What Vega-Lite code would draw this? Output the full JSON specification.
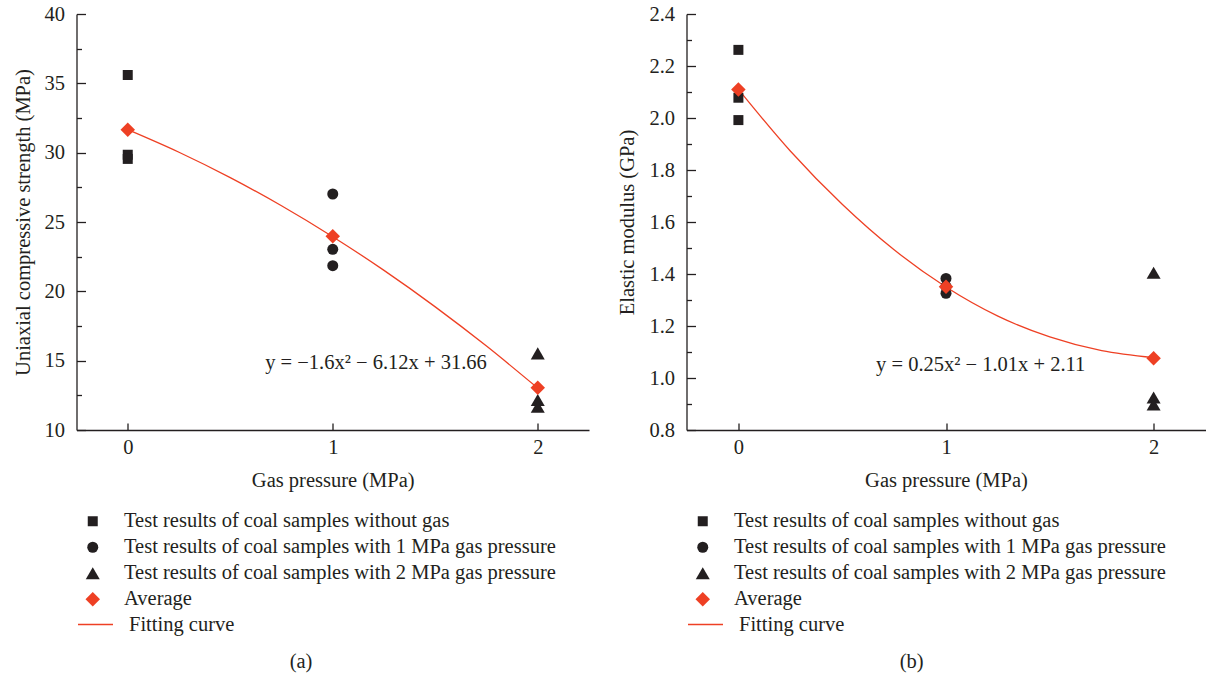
{
  "$schema": "https://vega.github.io/schema/vega-lite/v6.json",
  "padding": {"left": 12.5, "top": 4, "right": 0, "bottom": 0},
  "background": "white",
  "spacing": 28,
  "config": {
    "font": "Liberation Serif",
    "view": {"stroke": null},
    "axis": {
      "grid": false,
      "domainColor": "#231F20",
      "domainWidth": 1.3,
      "tickColor": "#231F20",
      "tickWidth": 1.3,
      "labelFont": "Liberation Serif",
      "labelFontSize": 20.5,
      "labelColor": "#231F20",
      "titleFont": "Liberation Serif",
      "titleFontSize": 20.5,
      "titleFontWeight": "normal",
      "titleColor": "#231F20"
    },
    "legend": {"labelFont": "Liberation Serif", "labelFontSize": 20.5, "labelColor": "#231F20", "labelLimit": 900, "padding": 0, "title": null},
    "title": {"font": "Liberation Serif", "fontSize": 20.5, "fontWeight": "normal", "color": "#231F20"}
  },
  "resolve": {
    "scale": {"x": "independent", "y": "independent", "color": "independent", "shape": "independent", "size": "independent", "stroke": "independent"},
    "legend": {"color": "independent", "shape": "independent", "size": "independent", "stroke": "independent"}
  },
  "hconcat": [
    {
      "width": 512.5,
      "height": 416,
      "title": {"text": "(a)", "orient": "bottom", "anchor": "middle", "frame": "bounds", "offset": 17},
      "encoding": {
        "x": {"field": "x", "type": "quantitative", "scale": {"domain": [-0.25, 2.25], "nice": false, "zero": false},
          "axis": {"title": "Gas pressure (MPa)", "format": "d", "values": [0, 0.5, 1, 1.5, 2], "labelExpr": "datum.value % 1 === 0 ? datum.label : ''",
            "tickSize": {"condition": {"test": "datum.value % 1 !== 0", "value": -4}, "value": -7}, "labelPadding": 14.5, "titlePadding": 12}},
        "y": {"field": "y", "type": "quantitative", "scale": {"domain": [10, 40], "nice": false, "zero": false},
          "axis": {"title": "Uniaxial compressive strength (MPa)", "values": [10, 12.5, 15, 17.5, 20, 22.5, 25, 27.5, 30, 32.5, 35, 37.5, 40], "labelExpr": "datum.value % 5 === 0 ? datum.label : ''",
            "tickSize": {"condition": {"test": "datum.value % 5 !== 0", "value": -5}, "value": -9}, "labelPadding": 21, "titlePadding": 11}}
      },
      "layer": [
        {
          "data": {"values": [
            {"x": 0, "y": 31.66, "curve": "Fitting curve"}, {"x": 0.25, "y": 30.03, "curve": "Fitting curve"}, {"x": 0.5, "y": 28.2, "curve": "Fitting curve"}, {"x": 0.75, "y": 26.17, "curve": "Fitting curve"},
            {"x": 1, "y": 23.94, "curve": "Fitting curve"}, {"x": 1.25, "y": 21.51, "curve": "Fitting curve"}, {"x": 1.5, "y": 18.88, "curve": "Fitting curve"}, {"x": 1.75, "y": 16.05, "curve": "Fitting curve"}, {"x": 2, "y": 13.02, "curve": "Fitting curve"}
          ]},
          "mark": {"type": "line", "strokeWidth": 1.3, "interpolate": "monotone"},
          "encoding": {
            "stroke": {"field": "curve", "type": "nominal", "scale": {"domain": ["Fitting curve"], "range": ["#EE4024"]},
              "legend": {"orient": "none", "legendX": 0.5, "legendY": 592, "symbolType": "stroke", "symbolSize": 1225, "symbolStrokeWidth": 1.4, "labelOffset": 15}}
          }
        },
        {
          "data": {"values": [
            {"x": 0, "y": 35.6, "series": "Test results of coal samples without gas"},
            {"x": 0, "y": 29.85, "series": "Test results of coal samples without gas"},
            {"x": 0, "y": 29.55, "series": "Test results of coal samples without gas"},
            {"x": 1, "y": 27.02, "series": "Test results of coal samples with 1 MPa gas pressure"},
            {"x": 1, "y": 23.03, "series": "Test results of coal samples with 1 MPa gas pressure"},
            {"x": 1, "y": 21.85, "series": "Test results of coal samples with 1 MPa gas pressure"},
            {"x": 2, "y": 15.53, "series": "Test results of coal samples with 2 MPa gas pressure"},
            {"x": 2, "y": 12.16, "series": "Test results of coal samples with 2 MPa gas pressure"},
            {"x": 2, "y": 11.68, "series": "Test results of coal samples with 2 MPa gas pressure"},
            {"x": 0, "y": 31.66, "series": "Average"},
            {"x": 1, "y": 23.97, "series": "Average"},
            {"x": 2, "y": 13.04, "series": "Average"}
          ]},
          "mark": {"type": "point", "filled": true, "opacity": 1, "strokeWidth": 0},
          "encoding": {
            "shape": {"field": "series", "type": "nominal",
              "scale": {"domain": ["Test results of coal samples without gas", "Test results of coal samples with 1 MPa gas pressure", "Test results of coal samples with 2 MPa gas pressure", "Average"],
                "range": ["square", "circle", "triangle-up", "diamond"]},
              "legend": {"orient": "none", "legendX": 6, "legendY": 497, "direction": "vertical", "labelOffset": 21, "rowPadding": 5, "symbolOpacity": 1}},
            "color": {"field": "series", "type": "nominal",
              "scale": {"domain": ["Test results of coal samples without gas", "Test results of coal samples with 1 MPa gas pressure", "Test results of coal samples with 2 MPa gas pressure", "Average"],
                "range": ["#231F20", "#231F20", "#231F20", "#EE4024"]},
              "legend": {"orient": "none", "legendX": 6, "legendY": 497, "direction": "vertical", "labelOffset": 21, "rowPadding": 5, "symbolOpacity": 1}},
            "size": {"field": "series", "type": "ordinal",
              "scale": {"type": "ordinal", "domain": ["Test results of coal samples without gas", "Test results of coal samples with 1 MPa gas pressure", "Test results of coal samples with 2 MPa gas pressure", "Average"],
                "range": [100, 121, 196, 210]},
              "legend": {"orient": "none", "legendX": 6, "legendY": 497, "direction": "vertical", "labelOffset": 21, "rowPadding": 5, "symbolOpacity": 1}}
          }
        },
        {
          "data": {"values": [{"x": 1.211, "y": 14.83, "label": "y = −1.6x² − 6.12x + 31.66"}]},
          "mark": {"type": "text", "font": "Liberation Serif", "fontSize": 20.5, "color": "#231F20", "align": "center", "baseline": "middle"},
          "encoding": {"text": {"field": "label", "type": "nominal"}}
        }
      ]
    },
    {
      "width": 519,
      "height": 416,
      "title": {"text": "(b)", "orient": "bottom", "anchor": "middle", "frame": "bounds", "offset": 17},
      "encoding": {
        "x": {"field": "x", "type": "quantitative", "scale": {"domain": [-0.25, 2.25], "nice": false, "zero": false},
          "axis": {"title": "Gas pressure (MPa)", "format": "d", "values": [0, 0.5, 1, 1.5, 2], "labelExpr": "datum.value % 1 === 0 ? datum.label : ''",
            "tickSize": {"condition": {"test": "datum.value % 1 !== 0", "value": -4}, "value": -7}, "labelPadding": 14.5, "titlePadding": 12}},
        "y": {"field": "y", "type": "quantitative", "scale": {"domain": [0.8, 2.4], "nice": false, "zero": false},
          "axis": {"title": "Elastic modulus (GPa)", "format": ".1f", "values": [0.8, 0.9, 1.0, 1.1, 1.2, 1.3, 1.4, 1.5, 1.6, 1.7, 1.8, 1.9, 2.0, 2.1, 2.2, 2.3, 2.4],
            "labelExpr": "abs(datum.value * 5 - round(datum.value * 5)) < 0.01 ? datum.label : ''",
            "tickSize": {"condition": {"test": "abs(datum.value * 5 - round(datum.value * 5)) > 0.01", "value": -5}, "value": -9}, "labelPadding": 21, "titlePadding": 11}}
      },
      "layer": [
        {
          "data": {"values": [
            {"x": 0, "y": 2.11, "curve": "Fitting curve"}, {"x": 0.25, "y": 1.873, "curve": "Fitting curve"}, {"x": 0.5, "y": 1.668, "curve": "Fitting curve"}, {"x": 0.75, "y": 1.493, "curve": "Fitting curve"},
            {"x": 1, "y": 1.35, "curve": "Fitting curve"}, {"x": 1.25, "y": 1.238, "curve": "Fitting curve"}, {"x": 1.5, "y": 1.158, "curve": "Fitting curve"}, {"x": 1.75, "y": 1.105, "curve": "Fitting curve"}, {"x": 2, "y": 1.078, "curve": "Fitting curve"}
          ]},
          "mark": {"type": "line", "strokeWidth": 1.3, "interpolate": "monotone"},
          "encoding": {
            "stroke": {"field": "curve", "type": "nominal", "scale": {"domain": ["Fitting curve"], "range": ["#EE4024"]},
              "legend": {"orient": "none", "legendX": 0.5, "legendY": 592, "symbolType": "stroke", "symbolSize": 1225, "symbolStrokeWidth": 1.4, "labelOffset": 15}}
          }
        },
        {
          "data": {"values": [
            {"x": 0, "y": 2.262, "series": "Test results of coal samples without gas"},
            {"x": 0, "y": 2.078, "series": "Test results of coal samples without gas"},
            {"x": 0, "y": 1.992, "series": "Test results of coal samples without gas"},
            {"x": 1, "y": 1.383, "series": "Test results of coal samples with 1 MPa gas pressure"},
            {"x": 1, "y": 1.352, "series": "Test results of coal samples with 1 MPa gas pressure"},
            {"x": 1, "y": 1.326, "series": "Test results of coal samples with 1 MPa gas pressure"},
            {"x": 2, "y": 1.405, "series": "Test results of coal samples with 2 MPa gas pressure"},
            {"x": 2, "y": 0.925, "series": "Test results of coal samples with 2 MPa gas pressure"},
            {"x": 2, "y": 0.898, "series": "Test results of coal samples with 2 MPa gas pressure"},
            {"x": 0, "y": 2.11, "series": "Average"},
            {"x": 1, "y": 1.351, "series": "Average"},
            {"x": 2, "y": 1.076, "series": "Average"}
          ]},
          "mark": {"type": "point", "filled": true, "opacity": 1, "strokeWidth": 0},
          "encoding": {
            "shape": {"field": "series", "type": "nominal",
              "scale": {"domain": ["Test results of coal samples without gas", "Test results of coal samples with 1 MPa gas pressure", "Test results of coal samples with 2 MPa gas pressure", "Average"],
                "range": ["square", "circle", "triangle-up", "diamond"]},
              "legend": {"orient": "none", "legendX": 6, "legendY": 497, "direction": "vertical", "labelOffset": 21, "rowPadding": 5, "symbolOpacity": 1}},
            "color": {"field": "series", "type": "nominal",
              "scale": {"domain": ["Test results of coal samples without gas", "Test results of coal samples with 1 MPa gas pressure", "Test results of coal samples with 2 MPa gas pressure", "Average"],
                "range": ["#231F20", "#231F20", "#231F20", "#EE4024"]},
              "legend": {"orient": "none", "legendX": 6, "legendY": 497, "direction": "vertical", "labelOffset": 21, "rowPadding": 5, "symbolOpacity": 1}},
            "size": {"field": "series", "type": "ordinal",
              "scale": {"type": "ordinal", "domain": ["Test results of coal samples without gas", "Test results of coal samples with 1 MPa gas pressure", "Test results of coal samples with 2 MPa gas pressure", "Average"],
                "range": [100, 121, 196, 210]},
              "legend": {"orient": "none", "legendX": 6, "legendY": 497, "direction": "vertical", "labelOffset": 21, "rowPadding": 5, "symbolOpacity": 1}}
          }
        },
        {
          "data": {"values": [{"x": 1.167, "y": 1.0485, "label": "y = 0.25x² − 1.01x + 2.11"}]},
          "mark": {"type": "text", "font": "Liberation Serif", "fontSize": 20.5, "color": "#231F20", "align": "center", "baseline": "middle"},
          "encoding": {"text": {"field": "label", "type": "nominal"}}
        }
      ]
    }
  ]
}
